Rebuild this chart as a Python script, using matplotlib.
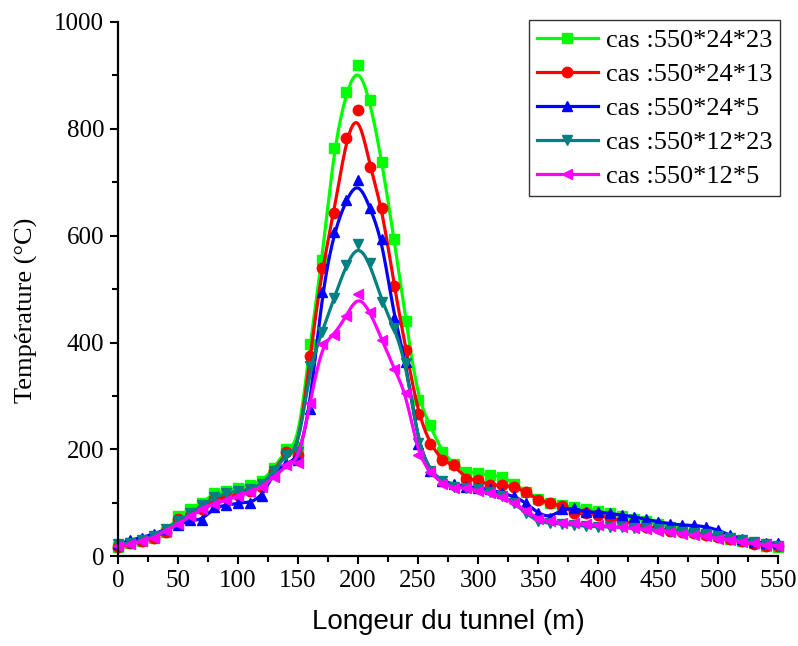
import numpy as np
import matplotlib
matplotlib.use("Agg")
import matplotlib.pyplot as plt
from matplotlib.lines import Line2D
from matplotlib.ticker import MultipleLocator

# positions along the tunnel (m), one point every 10 m
longueur = np.arange(0, 551, 10)

cas_24_23 = [18, 25, 28, 35, 45, 75, 88, 100, 118, 122, 128, 133, 140, 165,
             200, 205, 398, 555, 765, 869, 920, 853, 737, 593, 440, 292, 245,
             195, 172, 158, 155, 152, 149, 136, 120, 108, 99, 95, 92, 89, 85,
             80, 75, 70, 65, 60, 55, 50, 45, 42, 38, 33, 28, 24, 20, 18]
cas_24_13 = [18, 24, 28, 35, 45, 70, 75, 88, 108, 110, 115, 122, 130, 160,
             195, 190, 375, 539, 643, 783, 836, 728, 652, 506, 386, 267, 210,
             180, 170, 145, 142, 133, 133, 130, 120, 105, 99, 94, 80, 80, 78,
             72, 66, 60, 55, 52, 48, 45, 43, 40, 36, 32, 28, 22, 20, 20]
cas_24_5 = [22, 30, 35, 42, 50, 58, 68, 67, 92, 95, 100, 100, 112, 158,
            175, 180, 275, 495, 607, 667, 704, 652, 593, 446, 363, 210, 160,
            140, 135, 130, 128, 125, 118, 112, 100, 80, 72, 88, 90, 82, 83,
            80, 77, 74, 69, 64, 61, 58, 58, 55, 49, 39, 33, 27, 24, 24]
cas_12_23 = [22, 25, 30, 38, 50, 65, 80, 95, 110, 118, 122, 125, 135, 160,
             190, 195, 356, 420, 483, 545, 585, 548, 476, 428, 361, 211, 160,
             140, 130, 128, 125, 120, 112, 100, 80, 65, 62, 60, 58, 56, 55,
             55, 54, 53, 52, 50, 48, 46, 44, 42, 38, 34, 30, 26, 22, 20]
cas_12_5 = [20, 22, 28, 35, 48, 60, 75, 88, 98, 105, 112, 120, 130, 148,
            170, 175, 286, 398, 414, 449, 490, 458, 404, 351, 305, 189, 158,
            135, 128, 128, 122, 118, 110, 100, 85, 70, 65, 63, 62, 60, 58,
            56, 54, 52, 50, 48, 45, 42, 40, 37, 33, 30, 27, 24, 21, 20]

series = [cas_24_23, cas_24_13, cas_24_5, cas_12_23, cas_12_5]
labels = ["cas :550*24*23", "cas :550*24*13", "cas :550*24*5",
          "cas :550*12*23", "cas :550*12*5"]
colors = ["#00ff00", "#ff0000", "#0000ff", "#008080", "#ff00ff"]
markers = ["s", "o", "^", "v", "<"]


def bspline(x, y, n=20):
    # uniform cubic B-spline with the data points as control points
    P = np.column_stack([x, y]).astype(float)
    P = np.vstack([P[0], P[0], P, P[-1], P[-1]])
    t = np.linspace(0, 1, n)[:, None]
    b0 = (1 - t) ** 3 / 6
    b1 = (3 * t**3 - 6 * t**2 + 4) / 6
    b2 = (-3 * t**3 + 3 * t**2 + 3 * t + 1) / 6
    b3 = t**3 / 6
    segs = [b0 * P[i] + b1 * P[i + 1] + b2 * P[i + 2] + b3 * P[i + 3]
            for i in range(len(P) - 3)]
    out = np.vstack(segs)
    return out[:, 0], out[:, 1]


fig = plt.figure(figsize=(7.98, 6.46), dpi=100)
ax = fig.add_axes([0.148, 0.139, 0.827, 0.827])

handles = []
for vals, lab, c, m in zip(series, labels, colors, markers):
    sx, sy = bspline(longueur, vals)
    ax.plot(sx, sy, color=c, lw=2.3, clip_on=False)
    ax.plot(longueur, vals, ls="none", marker=m, color=c, ms=7.5, clip_on=False)
    handles.append(Line2D([], [], color=c, lw=2.3, marker=m, ms=7.5))

ax.set_xlim(0, 550)
ax.set_ylim(0, 1000)
ax.xaxis.set_major_locator(MultipleLocator(50))
ax.xaxis.set_minor_locator(MultipleLocator(25))
ax.yaxis.set_major_locator(MultipleLocator(200))
ax.yaxis.set_minor_locator(MultipleLocator(100))
for s in ["top", "right"]:
    ax.spines[s].set_visible(False)
for s in ["left", "bottom"]:
    ax.spines[s].set_linewidth(1.6)
ax.tick_params(which="major", direction="out", length=6, width=1.5,
               labelsize=18, pad=4)
ax.tick_params(which="minor", direction="out", length=4, width=1.5)
for lab in ax.get_xticklabels() + ax.get_yticklabels():
    lab.set_family("Liberation Serif")

ax.set_xlabel("Longeur du tunnel (m)", family="Liberation Sans",
              fontsize=20, labelpad=12)
ax.set_ylabel("Température (°C)", family="Liberation Serif", fontsize=19)
ax.yaxis.set_label_coords(-0.122, 0.46)

leg = ax.legend(handles, labels, loc="upper right", bbox_to_anchor=(1.003, 1.003),
                prop={"family": "Liberation Serif", "size": 19},
                frameon=True, fancybox=False, edgecolor="black",
                handlelength=2.3, handletextpad=0.3, labelspacing=0.4,
                borderpad=0.3, borderaxespad=0)
leg.get_frame().set_linewidth(1.0)

fig.savefig("out.png", dpi=100)
